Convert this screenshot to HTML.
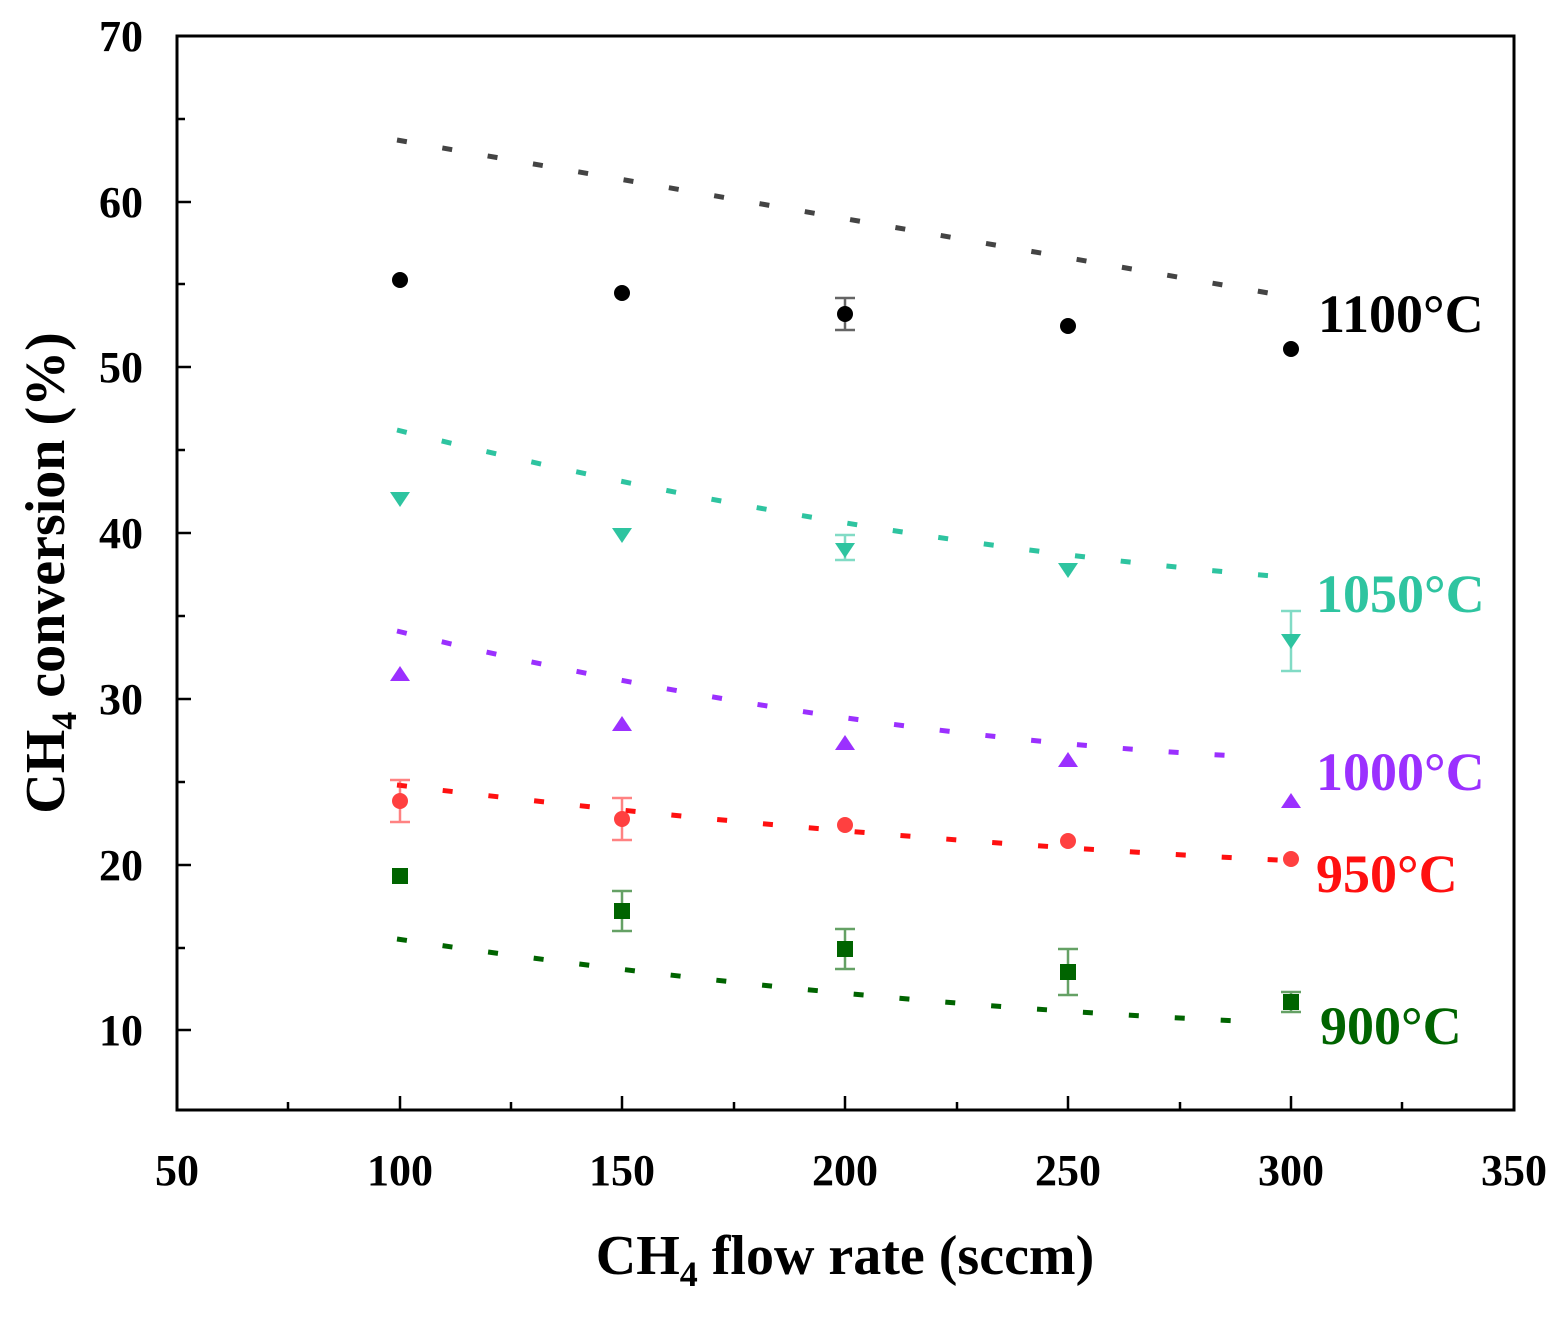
<!DOCTYPE html>
<html><head><style>html,body{margin:0;padding:0;background:#fff}</style></head>
<body>
<svg width="1560" height="1313" viewBox="0 0 1560 1313" xmlns="http://www.w3.org/2000/svg" font-family="Liberation Serif, serif" font-weight="bold">
<rect x="177" y="36" width="1337" height="1074" fill="none" stroke="#000" stroke-width="3"/>
<g stroke="#000" stroke-width="2.5">
<path d="M400 1110v-14M622 1110v-14M845 1110v-14M1068 1110v-14M1291 1110v-14M288 1110v-8M511 1110v-8M734 1110v-8M957 1110v-8M1180 1110v-8M1402 1110v-8"/>
<path d="M177 202h14M177 367h14M177 533h14M177 699h14M177 865h14M177 1030h14M177 119h8M177 284h8M177 450h8M177 616h8M177 782h8M177 948h8"/>
</g>
<g font-size="44" text-anchor="end">
<text x="143" y="51">70</text><text x="143" y="217">60</text><text x="143" y="382">50</text><text x="143" y="548">40</text><text x="143" y="714">30</text><text x="143" y="880">20</text><text x="143" y="1045">10</text>
</g>
<g font-size="44" text-anchor="middle">
<text x="177" y="1185">50</text><text x="400" y="1185">100</text><text x="622" y="1185">150</text><text x="845" y="1185">200</text><text x="1068" y="1185">250</text><text x="1291" y="1185">300</text><text x="1514" y="1185">350</text>
</g>
<text x="845" y="1274" font-size="56" text-anchor="middle">CH<tspan font-size="36" dy="12">4</tspan><tspan dy="-12"> flow rate (sccm)</tspan></text>
<text transform="translate(64 573) rotate(-90)" font-size="56" text-anchor="middle">CH<tspan font-size="36" dy="12">4</tspan><tspan dy="-12"> conversion (%)</tspan></text>
<g fill="none" stroke-width="5" stroke-dasharray="10 36">
<path d="M397 140 L1297 298" stroke="#444"/>
<path d="M397 430 Q845 542 1297 578" stroke="#2ec4a0"/>
<path d="M397 631 Q825 736 1257 757" stroke="#9b30ff"/>
<path d="M397 785 Q845 839 1297 861" stroke="#ff1010"/>
<path d="M397 939 Q828 1003 1262 1022" stroke="#006400"/>
</g>
<g stroke-width="2.5" opacity="0.6">
<path d="M1291 611v60M1281 611h20M1281 671h20" stroke="#2ec4a0"/>
<path d="M845 535v25M835 535h20M835 560h20" stroke="#2ec4a0"/>
<path d="M845 298v32M835 298h20M835 330h20" stroke="#000"/>
<path d="M400 780v42M390 780h20M390 822h20M622 798v42M612 798h20M612 840h20" stroke="#ff3030"/>
<path d="M622 891v40M612 891h20M612 931h20M845 929v40M835 929h20M835 969h20M1068 949v46M1058 949h20M1058 995h20M1291 992v20M1281 992h20M1281 1012h20" stroke="#006400"/>
</g>
<g fill="#000"><circle cx="400" cy="280" r="8"/><circle cx="622" cy="293" r="8"/><circle cx="845" cy="314" r="8"/><circle cx="1068" cy="326" r="8"/><circle cx="1291" cy="349" r="8"/></g>
<g fill="#2ec4a0"><path d="M390 492h20l-10 15z"/><path d="M612 528h20l-10 15z"/><path d="M835 543h20l-10 15z"/><path d="M1058 563h20l-10 15z"/><path d="M1281 634h20l-10 15z"/></g>
<g fill="#9b30ff"><path d="M390 681h20l-10-15z"/><path d="M612 731h20l-10-15z"/><path d="M835 750h20l-10-15z"/><path d="M1058 767h20l-10-15z"/><path d="M1281 808h20l-10-15z"/></g>
<g fill="#ff4040"><circle cx="400" cy="801" r="8"/><circle cx="622" cy="819" r="8"/><circle cx="845" cy="825" r="8"/><circle cx="1068" cy="841" r="8"/><circle cx="1291" cy="859" r="8"/></g>
<g fill="#006400"><rect x="392" y="868" width="16" height="16"/><rect x="614" y="903" width="16" height="16"/><rect x="837" y="941" width="16" height="16"/><rect x="1060" y="964" width="16" height="16"/><rect x="1283" y="994" width="16" height="16"/></g>
<g font-size="54">
<text x="1318" y="332" fill="#000">1100°C</text>
<text x="1316" y="612" fill="#2ec4a0">1050°C</text>
<text x="1316" y="790" fill="#9b30ff">1000°C</text>
<text x="1316" y="892" fill="#ff1010">950°C</text>
<text x="1320" y="1044" fill="#006400">900°C</text>
</g>
</svg>
</body></html>
